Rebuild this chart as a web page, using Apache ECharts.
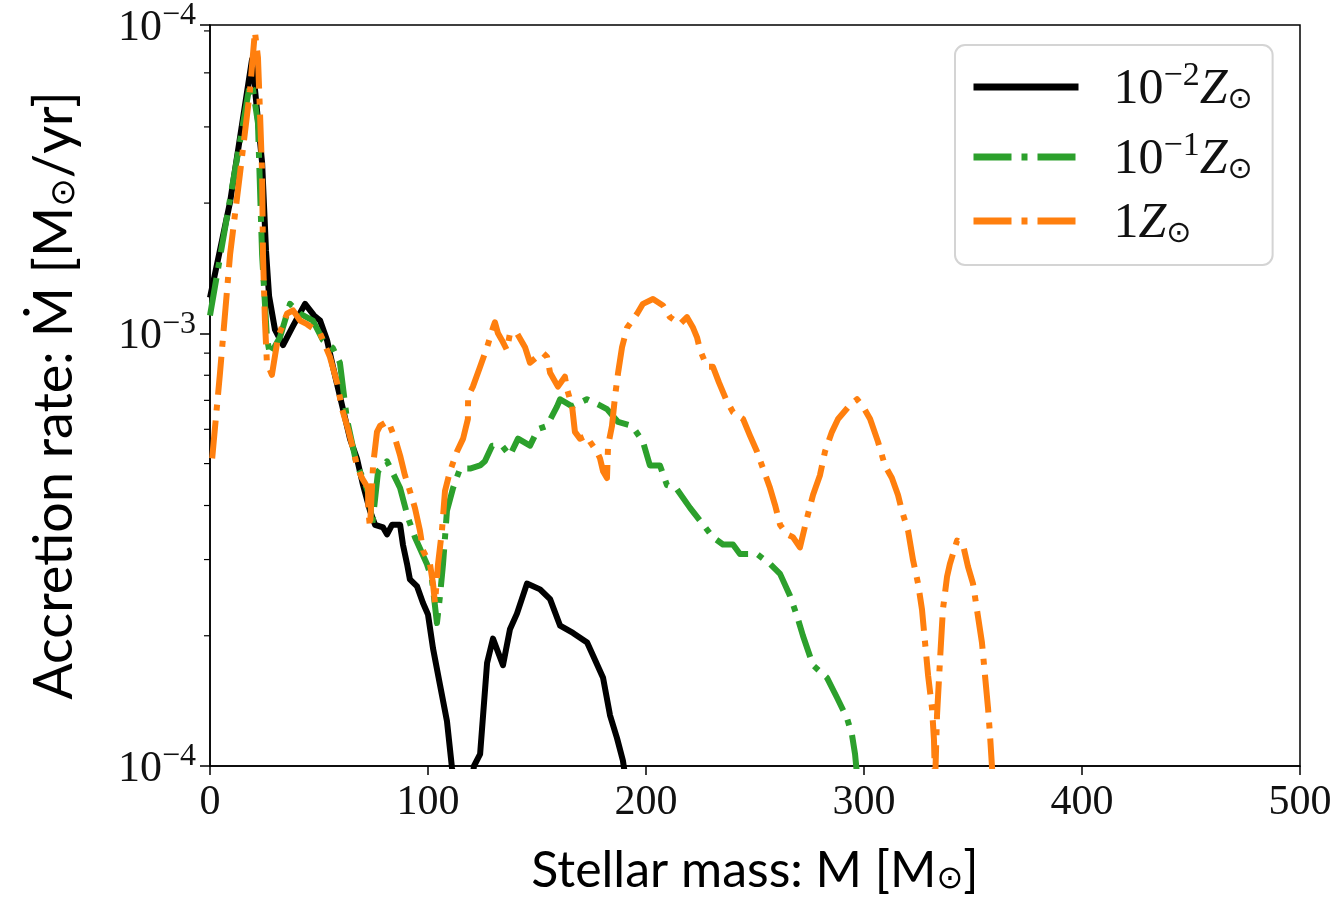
<!DOCTYPE html>
<html><head><meta charset="utf-8">
<script src="https://cdn.jsdelivr.net/npm/echarts@6/dist/echarts.min.js"></script>
<style>html,body{margin:0;padding:0;background:#fff}#c{width:1337px;height:901px}</style>
</head><body><div id="c"></div>
<script>
// ---- data ----
const xTickValues = [0, 100, 200, 300, 400, 500];
const yTickValues = [1e-4, 1e-3, 5.16e-3];
const yTickExponents = ['−4', '−3', '−4'];
const yMinorTicks = [2e-4, 3e-4, 4e-4, 5e-4, 6e-4, 7e-4, 8e-4, 9e-4, 2e-3, 3e-3, 4e-3, 5e-3];

const seriesNames = ['10^-2 Z_sun', '10^-1 Z_sun', '1 Z_sun'];
const legendExponents = ['−2', '−1', ''];

const blackMass = [0, 9.2, 19.3, 23.9, 25.7, 27.1, 29.8, 33.5, 38.1, 43.6, 47.7, 50.5, 53.7, 56.4, 61.0, 64.2, 67.4, 70.2, 73.4, 75.7, 79.4, 81.2, 83.5, 87.2, 88.5, 90.4, 91.7, 95.0, 97.7, 100.0, 102.3, 105.5, 108.7, 111.0, 112.8, 119.3, 121.1, 123.9, 127.1, 129.8, 134.4, 137.6, 140.8, 145.4, 151.4, 156.0, 160.6, 166.5, 173.0, 175.7, 180.3, 183.5, 186.7, 189.4, 191.7];
const blackRate = [1.21e-3, 2.01e-3, 4.30e-3, 2.48e-3, 1.55e-3, 1.22e-3, 1.02e-3, 9.39e-4, 1.04e-3, 1.17e-3, 1.10e-3, 1.07e-3, 9.64e-4, 8.37e-4, 6.68e-4, 5.71e-4, 5.14e-4, 4.46e-4, 3.89e-4, 3.61e-4, 3.56e-4, 3.43e-4, 3.61e-4, 3.61e-4, 3.25e-4, 2.93e-4, 2.70e-4, 2.60e-4, 2.38e-4, 2.24e-4, 1.87e-4, 1.54e-4, 1.27e-4, 9.9e-5, 8.6e-5, 8.6e-5, 1.00e-4, 1.065e-4, 1.73e-4, 1.97e-4, 1.71e-4, 2.07e-4, 2.25e-4, 2.64e-4, 2.56e-4, 2.43e-4, 2.11e-4, 2.03e-4, 1.93e-4, 1.80e-4, 1.60e-4, 1.31e-4, 1.16e-4, 1.03e-4, 8.6e-5];

const greenMass = [0, 18.3, 19.7, 22.0, 23.9, 26.1, 27.5, 32.1, 36.7, 41.3, 47.2, 51.8, 56.4, 59.6, 62.8, 67.4, 70.2, 73.4, 74.3, 77.1, 81.2, 83.5, 87.2, 90.8, 94.0, 99.5, 101.8, 104.1, 105.5, 106.9, 108.7, 111.5, 114.7, 119.3, 123.9, 126.1, 129.4, 133.9, 137.6, 141.3, 146.8, 150.5, 154.6, 159.2, 160.6, 166.1, 172.9, 178.0, 182.1, 187.2, 193.6, 198.6, 201.8, 206.4, 209.6, 213.8, 220.2, 224.8, 230.7, 235.3, 239.9, 243.1, 250.9, 256.9, 261.5, 266.1, 269.3, 272.0, 276.6, 283.0, 287.6, 292.2, 294.5, 295.9, 297.2];
const greenRate = [1.10e-3, 3.77e-3, 3.67e-3, 3.06e-3, 1.52e-3, 9.79e-4, 8.91e-4, 9.79e-4, 1.17e-3, 1.11e-3, 1.07e-3, 9.64e-4, 9.24e-4, 8.55e-4, 6.34e-4, 4.95e-4, 4.63e-4, 4.16e-4, 3.56e-4, 4.80e-4, 5.06e-4, 4.80e-4, 4.39e-4, 3.75e-4, 3.38e-4, 2.93e-4, 2.70e-4, 2.14e-4, 2.47e-4, 2.93e-4, 3.89e-4, 4.39e-4, 4.87e-4, 4.87e-4, 4.95e-4, 5.06e-4, 5.50e-4, 5.50e-4, 5.22e-4, 5.71e-4, 5.50e-4, 6.01e-4, 6.11e-4, 6.78e-4, 7.04e-4, 6.78e-4, 7.04e-4, 6.85e-4, 6.68e-4, 6.24e-4, 6.11e-4, 5.62e-4, 4.95e-4, 4.95e-4, 4.46e-4, 4.39e-4, 3.95e-4, 3.69e-4, 3.38e-4, 3.25e-4, 3.25e-4, 3.09e-4, 3.09e-4, 2.93e-4, 2.78e-4, 2.47e-4, 2.22e-4, 2.00e-4, 1.71e-4, 1.60e-4, 1.44e-4, 1.29e-4, 1.18e-4, 1.065e-4, 9.1e-5];

const orangeMass = [1.0, 4.6, 9.2, 13.8, 18.3, 20.6, 22.0, 22.9, 23.9, 24.3, 25.2, 26.1, 28.4, 31.2, 35.3, 38.1, 41.3, 44.5, 50.5, 55.0, 58.3, 60.6, 63.3, 65.6, 67.4, 69.7, 72.5, 72.6, 73.4, 74.8, 76.6, 78.0, 81.7, 84.9, 87.2, 89.4, 91.7, 94.0, 96.3, 97.7, 100.9, 102.3, 103.2, 104.6, 106.4, 107.8, 110.1, 113.3, 116.1, 118.3, 118.4, 120.6, 123.9, 127.1, 129.8, 130.7, 132.1, 133.9, 136.2, 137.6, 140.8, 144.5, 146.8, 150.0, 152.8, 154.6, 156.0, 159.6, 162.8, 163.8, 166.1, 167.4, 169.7, 172.9, 174.3, 177.5, 178.9, 180.3, 182.1, 182.6, 184.4, 185.8, 187.2, 189.0, 191.3, 195.9, 198.6, 203.2, 207.8, 211.0, 215.6, 218.8, 221.6, 223.4, 224.8, 228.0, 230.7, 233.5, 236.7, 239.9, 244.5, 247.7, 250.9, 253.7, 256.9, 259.2, 261.5, 264.7, 267.4, 270.6, 273.9, 276.6, 279.8, 282.1, 285.3, 288.1, 292.7, 296.8, 299.5, 302.8, 306.4, 309.6, 312.8, 315.6, 317.4, 320.2, 322.5, 324.8, 326.6, 328.0, 329.4, 331.2, 332.1, 332.6, 333.0, 333.5, 334.9, 336.2, 338.1, 339.4, 342.7, 345.4, 347.7, 350.0, 351.8, 354.1, 355.5, 356.9, 357.8, 359.2];
const orangeRate = [5.14e-4, 8.11e-4, 1.52e-3, 2.35e-3, 3.63e-3, 4.98e-3, 4.34e-3, 3.27e-3, 2.35e-3, 1.52e-3, 1.07e-3, 8.55e-4, 8.02e-4, 9.79e-4, 1.11e-3, 1.13e-3, 1.07e-3, 1.05e-3, 1.00e-3, 8.82e-4, 7.69e-4, 6.68e-4, 6.01e-4, 5.41e-4, 4.95e-4, 4.63e-4, 4.39e-4, 3.89e-4, 3.56e-4, 4.95e-4, 5.92e-4, 6.11e-4, 6.27e-4, 5.71e-4, 5.22e-4, 4.70e-4, 4.32e-4, 3.95e-4, 3.50e-4, 3.15e-4, 2.93e-4, 2.64e-4, 2.38e-4, 2.93e-4, 3.50e-4, 4.32e-4, 4.80e-4, 5.33e-4, 5.71e-4, 6.34e-4, 7.15e-4, 7.53e-4, 8.37e-4, 9.29e-4, 1.03e-3, 1.06e-3, 1.00e-3, 9.64e-4, 9.15e-4, 1.00e-3, 1.00e-3, 9.29e-4, 8.55e-4, 8.82e-4, 9.00e-4, 8.82e-4, 8.11e-4, 7.53e-4, 7.94e-4, 7.42e-4, 6.78e-4, 5.92e-4, 5.71e-4, 5.80e-4, 5.62e-4, 5.33e-4, 5.14e-4, 4.80e-4, 4.63e-4, 5.50e-4, 6.11e-4, 7.15e-4, 8.11e-4, 9.29e-4, 1.03e-3, 1.11e-3, 1.17e-3, 1.20e-3, 1.16e-3, 1.09e-3, 1.05e-3, 1.09e-3, 1.03e-3, 9.79e-4, 9.15e-4, 8.37e-4, 8.37e-4, 7.69e-4, 7.04e-4, 6.57e-4, 6.34e-4, 5.80e-4, 5.33e-4, 4.87e-4, 4.39e-4, 4.01e-4, 3.61e-4, 3.43e-4, 3.38e-4, 3.20e-4, 3.75e-4, 4.23e-4, 4.70e-4, 5.33e-4, 5.92e-4, 6.34e-4, 6.75e-4, 7.04e-4, 6.78e-4, 6.34e-4, 5.62e-4, 4.95e-4, 4.63e-4, 4.23e-4, 3.89e-4, 3.50e-4, 2.99e-4, 2.64e-4, 2.30e-4, 1.93e-4, 1.62e-4, 1.36e-4, 1.15e-4, 9.1e-5, 9.1e-5, 1.31e-4, 1.77e-4, 2.30e-4, 2.74e-4, 2.93e-4, 3.32e-4, 3.25e-4, 2.89e-4, 2.64e-4, 2.30e-4, 1.93e-4, 1.62e-4, 1.36e-4, 1.18e-4, 9.1e-5];

// ---- chart ----
const zip = (a, b) => a.map((v, i) => [v, b[i]]);
const SERIF = '"Liberation Serif", "DejaVu Serif", serif';
const SANS = 'Lato, "Open Sans", sans-serif';
const dashDot = [38, 10, 6, 10];

const tickRich = {
  b: { fontFamily: SERIF, fontSize: 44, lineHeight: 50, color: '#111', verticalAlign: 'bottom' },
  s: { fontFamily: SERIF, fontSize: 32, lineHeight: 32, color: '#111', verticalAlign: 'top' }
};
const legendRich = {
  b: { fontFamily: SERIF, fontSize: 50, lineHeight: 56, color: '#111', verticalAlign: 'bottom' },
  s: { fontFamily: SERIF, fontSize: 34, lineHeight: 30, color: '#111', verticalAlign: 'top' },
  z: { fontFamily: SERIF, fontSize: 50, lineHeight: 56, color: '#111', fontStyle: 'italic', verticalAlign: 'bottom' },
  o: { fontFamily: '"DejaVu Sans", sans-serif', fontSize: 30, lineHeight: 34, color: '#111', verticalAlign: 'bottom' },
  g: { width: 30 }
};
const xNameRich = {
  t: { fontFamily: SANS, fontSize: 50, color: '#000', lineHeight: 58, verticalAlign: 'bottom' },
  u: { fontFamily: '"DejaVu Sans", sans-serif', fontSize: 32, color: '#000', lineHeight: 34, verticalAlign: 'bottom' }
};
const yNameRich = {
  t: { fontFamily: SANS, fontSize: 54, color: '#000', lineHeight: 62, verticalAlign: 'bottom' },
  u: { fontFamily: '"DejaVu Sans", sans-serif', fontSize: 34, color: '#000', lineHeight: 36, verticalAlign: 'bottom' }
};

function yLabel(v) {
  let best = 0;
  for (let i = 1; i < yTickValues.length; i++) {
    if (Math.abs(Math.log10(v) - Math.log10(yTickValues[i])) < Math.abs(Math.log10(v) - Math.log10(yTickValues[best]))) best = i;
  }
  return '{b|10}{s|' + yTickExponents[best] + '}';
}

const chart = echarts.init(document.getElementById('c'), null, { renderer: 'canvas' });
chart.setOption({
  animation: false,
  backgroundColor: '#fff',
  grid: { left: 210, right: 37, top: 20, bottom: 129, show: true, borderColor: '#000', borderWidth: 1.5, backgroundColor: 'transparent' },
  xAxis: {
    type: 'value', min: xTickValues[0], max: xTickValues[xTickValues.length - 1], interval: 100,
    axisLine: { lineStyle: { color: '#000', width: 1.5 } },
    axisTick: { show: true, length: 9, lineStyle: { color: '#000', width: 1.5 } },
    splitLine: { show: false },
    axisLabel: { margin: 16, fontFamily: SERIF, fontSize: 42, color: '#111' },
    name: '{t|Stellar mass: M [M}{u|⊙}{t|]}',
    nameLocation: 'middle', nameGap: 72,
    nameTextStyle: { rich: xNameRich }
  },
  yAxis: {
    type: 'log', logBase: 10, min: yTickValues[0], max: yTickValues[2],
    axisLine: { show: true, lineStyle: { color: '#000', width: 1.5 } },
    axisTick: { show: true, length: 10, lineStyle: { color: '#000', width: 1.5 } },
    splitLine: { show: false },
    axisLabel: { margin: 14, formatter: yLabel, rich: tickRich, showMaxLabel: true, showMinLabel: true },
    name: '{t|Accretion rate: Ṁ [M}{u|⊙}{t|/yr]}',
    nameLocation: 'middle', nameGap: 128, nameRotate: 90,
    nameTextStyle: { rich: yNameRich }
  },
  legend: {
    data: seriesNames,
    orient: 'vertical', left: 955, top: 45,
    itemWidth: 105, itemHeight: 14, itemGap: 14,
    padding: [14, 20, 16, 15],
    backgroundColor: '#fff', borderColor: '#d4d4d4', borderWidth: 2, borderRadius: 10,
    itemStyle: { opacity: 0 },
    lineStyle: { width: 7 },
    textStyle: { rich: legendRich },
    formatter: function (name) {
      const i = seriesNames.indexOf(name);
      const e = legendExponents[i];
      return '{g| }' + (e ? '{b|10}{s|' + e + '}' : '{b|1}') + '{z|Z}{o|⊙}';
    }
  },
  series: [
    { name: seriesNames[0], type: 'line', data: zip(blackMass, blackRate), showSymbol: false, symbol: 'none', z: 5,
      lineStyle: { color: '#000', width: 6, cap: 'butt', join: 'round' }, itemStyle: { color: '#000' } },
    { name: seriesNames[1], type: 'line', data: zip(greenMass, greenRate), showSymbol: false, symbol: 'none', z: 6,
      lineStyle: { color: '#2ca02c', width: 6, type: dashDot, cap: 'butt', join: 'round' }, itemStyle: { color: '#2ca02c' } },
    { name: seriesNames[2], type: 'line', data: zip(orangeMass, orangeRate), showSymbol: false, symbol: 'none', z: 7,
      lineStyle: { color: '#ff7f0e', width: 6, type: dashDot, cap: 'butt', join: 'round' }, itemStyle: { color: '#ff7f0e' } },
    { name: 'minor ticks', type: 'custom', clip: false, silent: true, z: 10,
      data: yMinorTicks.map(v => [xTickValues[0], v]),
      renderItem: function (params, api) {
        const p = api.coord([api.value(0), api.value(1)]);
        return { type: 'line', shape: { x1: p[0] - 6, y1: p[1], x2: p[0], y2: p[1] }, style: { stroke: '#000', lineWidth: 1.2 } };
      } }
  ]
});
</script></body></html>
